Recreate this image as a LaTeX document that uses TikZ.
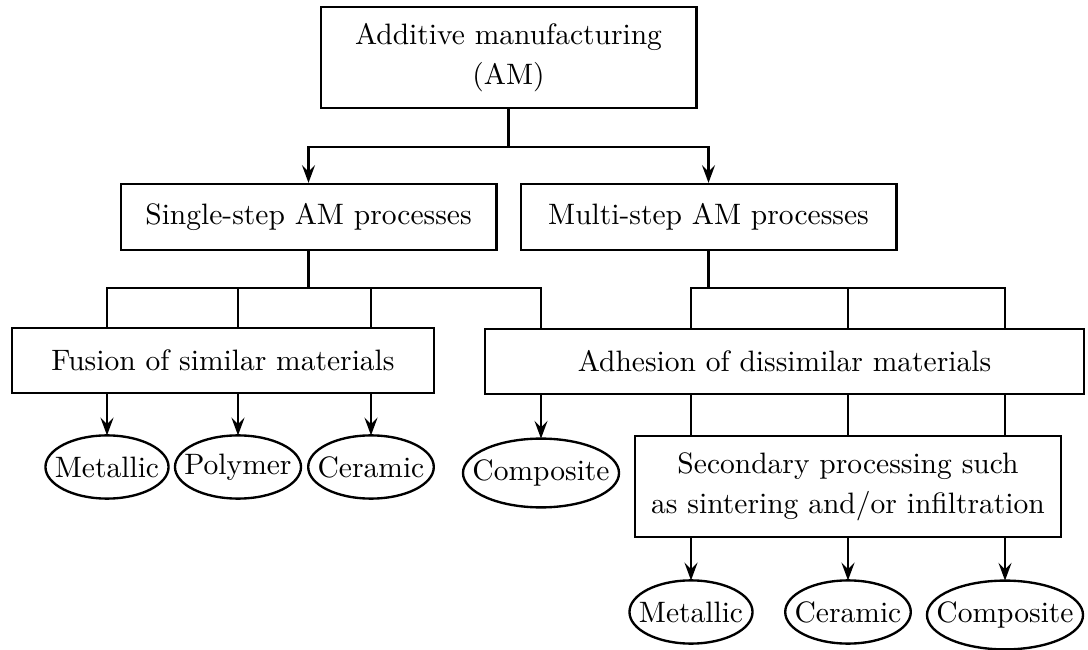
\documentclass[tikz,border=0pt]{standalone}
\usetikzlibrary{arrows.meta, calc}

\begin{document}
\begin{tikzpicture}[
    x=0.0119cm, y=-0.0119cm,
    line width=0.8pt,
    block/.style={
        rectangle,
        draw,
        inner sep=2pt,
        minimum width=#1,
        align=center
    },
    material/.style={
        rectangle,
        inner xsep=2.8pt,
        inner ysep=0pt,
        minimum height=20.6pt
    },
    arrow/.style={
        -{Stealth[length=6pt, width=4.4pt, inset=2.2pt]}
    }
]
\useasboundingbox (0,0) rectangle (1088,650);

% Main nodes
\node[block=127.2pt, minimum height=34.1pt] (am) at (508.5,57.5) {Additive manufacturing\\[1.5pt](AM)};
\node[block=127.2pt, minimum height=22.3pt] (single) at (308.5,217) {Single-step AM processes};
\node[block=127.2pt, minimum height=22.3pt] (multi) at (708.5,217) {Multi-step AM processes};

% Process nodes
\node[block=143pt, minimum height=21.9pt] (fusion) at (223,360.5) {Fusion of similar materials};
\node[block=202.7pt, minimum height=21.9pt] (adhesion) at (784.5,361.5) {Adhesion of dissimilar materials};
\node[block=144.4pt, minimum height=34.1pt] (secondary) at (848,486.5) {Secondary processing such\\[1.5pt]as sintering and/or infiltration};

% Material nodes
\node[material] (met1) at (107,467) {Metallic};
\node[material] (pol) at (238,467) {Polymer};
\node[material] (cer1) at (371,467) {Ceramic};
\node[material, minimum height=22.5pt] (comp1) at (541,473) {Composite};
\node[material] (met2) at (691,612) {Metallic};
\node[material] (cer2) at (848,612) {Ceramic};
\node[material, minimum height=22.5pt] (comp2) at (1005,615) {Composite};

\foreach \m in {met1,pol,cer1,comp1,met2,cer2,comp2}
    \draw let \p1=($(\m.north east)-(\m.south west)$) in
        (\m.center) ellipse ({0.5*\x1} and {-0.5*\y1});

% Junctions
\coordinate (amjoin) at (am.south |- 0,147);
\coordinate (sjoin) at (single.south |- 0,288);
\coordinate (mjoin) at (multi.south |- 0,288);

% Draw connecting lines
\draw (am.south) -- (amjoin);
\draw[arrow] (amjoin) -| (single.north);
\draw[arrow] (amjoin) -| (multi.north);

\draw (single.south) -- (sjoin);
\foreach \m in {met1,pol,cer1} {
    \draw (sjoin) -| (\m.north |- fusion.north);
    \draw[arrow] (\m.north |- fusion.south) -- (\m.north);
}
\draw (sjoin) -| (comp1.north |- adhesion.north);
\draw[arrow] (comp1.north |- adhesion.south) -- (comp1.north);

\draw (multi.south) -- (mjoin);
\foreach \m in {met2,cer2,comp2} {
    \draw (mjoin) -| (\m.north |- adhesion.north);
    \draw (\m.north |- adhesion.south) -- (\m.north |- secondary.north);
    \draw[arrow] (\m.north |- secondary.south) -- (\m.north);
}

\end{tikzpicture}
\end{document}
